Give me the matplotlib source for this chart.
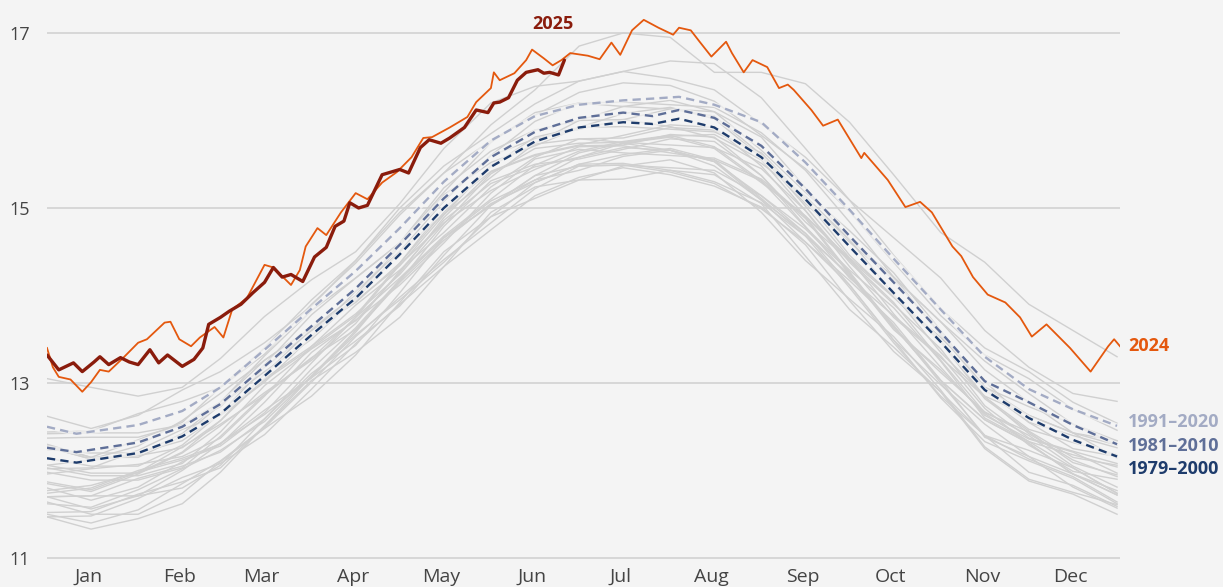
import matplotlib
matplotlib.use("Agg")
import matplotlib.pyplot as plt


# semi-monthly sample days for the historical (gray) years
gray_days = [0, 15, 31, 46, 59, 74, 90, 105, 120, 135, 151, 166, 181, 196,
             212, 227, 243, 258, 273, 288, 304, 319, 334, 349, 364]

gray_years = [
    [11.47, 11.33, 11.45, 11.62, 11.98, 12.51, 13.03, 13.35, 13.75, 14.33, 14.95, 15.24, 15.32, 15.33, 15.43, 15.38, 15.05, 14.45, 13.84, 13.41, 12.90, 12.25, 11.88, 11.73, 11.50],
    [11.47, 11.48, 11.68, 11.92, 12.08, 12.41, 12.93, 13.45, 13.90, 14.33, 14.75, 15.14, 15.35, 15.46, 15.38, 15.25, 15.01, 14.58, 13.94, 13.36, 12.90, 12.40, 11.98, 11.83, 11.59],
    [11.64, 11.50, 11.50, 11.74, 12.10, 12.48, 12.85, 13.32, 13.92, 14.50, 14.90, 15.11, 15.32, 15.48, 15.55, 15.40, 14.95, 14.40, 13.96, 13.53, 12.92, 12.27, 11.90, 11.75, 11.61],
    [11.50, 11.40, 11.55, 11.85, 12.11, 12.49, 13.01, 13.53, 13.98, 14.41, 14.83, 15.22, 15.48, 15.49, 15.41, 15.28, 14.99, 14.61, 14.12, 13.49, 12.83, 12.33, 12.11, 11.91, 11.62],
    [11.52, 11.53, 11.73, 11.87, 12.03, 12.51, 13.08, 13.55, 13.95, 14.38, 14.90, 15.29, 15.50, 15.51, 15.43, 15.30, 15.06, 14.68, 14.09, 13.46, 12.85, 12.40, 12.13, 11.93, 11.64],
    [11.70, 11.71, 11.71, 11.80, 12.06, 12.59, 13.11, 13.48, 13.88, 14.46, 15.03, 15.37, 15.48, 15.49, 15.46, 15.43, 15.14, 14.71, 14.12, 13.49, 12.98, 12.53, 12.16, 11.81, 11.57],
    [11.70, 11.56, 11.71, 12.00, 12.31, 12.69, 13.06, 13.43, 14.03, 14.66, 15.08, 15.32, 15.43, 15.59, 15.66, 15.53, 15.09, 14.61, 14.17, 13.69, 13.03, 12.38, 12.16, 11.96, 11.77],
    [11.62, 11.58, 11.78, 12.02, 12.23, 12.56, 13.08, 13.60, 14.15, 14.63, 15.05, 15.29, 15.50, 15.61, 15.68, 15.55, 15.11, 14.68, 14.24, 13.66, 13.00, 12.40, 12.23, 12.03, 11.74],
    [11.70, 11.71, 11.91, 12.05, 12.21, 12.59, 13.16, 13.63, 14.18, 14.66, 15.03, 15.32, 15.58, 15.69, 15.66, 15.48, 15.09, 14.71, 14.22, 13.64, 13.03, 12.58, 12.31, 11.96, 11.72],
    [11.80, 11.66, 11.81, 12.10, 12.31, 12.64, 13.06, 13.58, 14.18, 14.66, 15.03, 15.37, 15.63, 15.74, 15.66, 15.53, 15.14, 14.76, 14.27, 13.64, 13.03, 12.58, 12.31, 11.96, 11.72],
    [11.77, 11.83, 11.98, 12.12, 12.28, 12.66, 13.23, 13.75, 14.20, 14.68, 15.10, 15.49, 15.70, 15.71, 15.63, 15.55, 15.31, 14.88, 14.24, 13.61, 13.15, 12.65, 12.33, 12.03, 11.74],
    [11.74, 11.80, 12.00, 12.14, 12.30, 12.78, 13.35, 13.72, 14.12, 14.60, 15.17, 15.56, 15.67, 15.63, 15.60, 15.57, 15.33, 14.90, 14.26, 13.63, 13.12, 12.67, 12.40, 12.05, 11.81],
    [11.98, 11.89, 11.89, 12.03, 12.39, 12.87, 13.29, 13.61, 14.16, 14.79, 15.31, 15.50, 15.56, 15.67, 15.79, 15.76, 15.37, 14.79, 14.20, 13.77, 13.31, 12.71, 12.29, 11.99, 11.90],
    [11.85, 11.76, 11.96, 12.20, 12.51, 12.89, 13.26, 13.68, 14.28, 14.86, 15.28, 15.47, 15.58, 15.74, 15.81, 15.68, 15.29, 14.91, 14.42, 13.79, 13.18, 12.63, 12.36, 12.21, 11.97],
    [11.87, 11.78, 11.98, 12.27, 12.53, 12.86, 13.28, 13.75, 14.35, 14.83, 15.20, 15.44, 15.65, 15.76, 15.83, 15.70, 15.31, 14.78, 14.29, 13.86, 13.25, 12.60, 12.33, 12.18, 12.04],
    [11.96, 12.02, 12.07, 12.16, 12.37, 12.85, 13.42, 13.89, 14.29, 14.72, 15.24, 15.58, 15.79, 15.75, 15.72, 15.69, 15.45, 14.97, 14.33, 13.75, 13.29, 12.84, 12.42, 12.12, 11.93],
    [12.03, 11.94, 11.94, 12.08, 12.44, 12.97, 13.39, 13.71, 14.26, 14.89, 15.41, 15.60, 15.71, 15.72, 15.84, 15.81, 15.37, 14.84, 14.40, 13.92, 13.26, 12.66, 12.44, 12.09, 11.95],
    [12.06, 11.97, 11.97, 12.21, 12.57, 13.05, 13.42, 13.79, 14.24, 14.82, 15.39, 15.68, 15.74, 15.75, 15.82, 15.84, 15.55, 14.97, 14.38, 13.90, 13.39, 12.74, 12.37, 12.22, 12.08],
    [12.14, 12.05, 12.05, 12.29, 12.65, 13.03, 13.40, 13.77, 14.37, 15.00, 15.42, 15.61, 15.72, 15.83, 15.95, 15.92, 15.48, 14.90, 14.41, 13.98, 13.47, 12.82, 12.45, 12.15, 12.06],
    [12.06, 12.12, 12.17, 12.26, 12.57, 13.10, 13.62, 13.94, 14.34, 14.92, 15.49, 15.73, 15.79, 15.80, 15.92, 15.89, 15.60, 15.02, 14.43, 14.00, 13.49, 12.84, 12.47, 12.32, 12.18],
    [12.02, 12.03, 12.23, 12.47, 12.63, 13.01, 13.53, 14.05, 14.50, 14.93, 15.35, 15.74, 16.00, 16.01, 15.93, 15.80, 15.51, 15.13, 14.64, 14.01, 13.35, 12.85, 12.63, 12.43, 12.14],
    [12.24, 12.20, 12.20, 12.34, 12.65, 13.18, 13.60, 13.92, 14.37, 14.95, 15.47, 15.81, 15.92, 15.93, 15.90, 15.87, 15.63, 15.10, 14.46, 13.98, 13.52, 13.02, 12.55, 12.25, 12.16],
    [12.29, 12.15, 12.15, 12.39, 12.75, 13.13, 13.50, 13.97, 14.57, 15.15, 15.52, 15.71, 15.92, 16.08, 16.15, 16.02, 15.58, 15.05, 14.61, 14.18, 13.57, 12.92, 12.55, 12.40, 12.26],
    [12.27, 12.13, 12.18, 12.42, 12.78, 13.26, 13.63, 13.95, 14.50, 15.08, 15.60, 15.79, 15.90, 16.01, 16.13, 16.05, 15.61, 15.08, 14.64, 14.21, 13.55, 12.95, 12.63, 12.43, 12.34],
    [12.27, 12.13, 12.28, 12.57, 12.88, 13.26, 13.63, 14.00, 14.60, 15.23, 15.65, 15.89, 16.00, 16.16, 16.23, 16.10, 15.66, 15.18, 14.74, 14.26, 13.60, 12.95, 12.73, 12.53, 12.34],
    [12.37, 12.38, 12.38, 12.52, 12.73, 13.21, 13.78, 14.20, 14.60, 15.08, 15.60, 15.99, 16.20, 16.16, 16.13, 16.10, 15.81, 15.23, 14.64, 14.21, 13.70, 13.15, 12.78, 12.43, 12.29],
    [12.42, 12.43, 12.43, 12.52, 12.78, 13.31, 13.83, 14.20, 14.60, 15.18, 15.75, 16.09, 16.20, 16.21, 16.18, 16.15, 15.86, 15.43, 14.84, 14.21, 13.70, 13.25, 12.88, 12.53, 12.29],
    [12.44, 12.45, 12.65, 12.79, 12.95, 13.33, 13.90, 14.37, 14.92, 15.40, 15.77, 16.06, 16.32, 16.43, 16.40, 16.22, 15.83, 15.45, 14.96, 14.38, 13.77, 13.32, 13.05, 12.70, 12.46],
    [12.62, 12.48, 12.63, 12.92, 13.13, 13.46, 13.88, 14.40, 15.00, 15.48, 15.85, 16.19, 16.45, 16.56, 16.48, 16.35, 15.96, 15.58, 15.09, 14.46, 13.85, 13.40, 13.13, 12.78, 12.54],
    [13.05, 12.95, 12.85, 12.95, 13.28, 13.76, 14.18, 14.50, 15.05, 15.68, 16.20, 16.39, 16.45, 16.56, 16.68, 16.65, 16.26, 15.68, 15.09, 14.66, 14.20, 13.60, 13.18, 12.88, 12.79],
    # 2023
    [12.30, 12.15, 12.35, 12.55, 12.95, 13.40, 13.95, 14.40, 14.95, 15.40, 15.95, 16.35, 16.85, 17.00, 16.95, 16.55, 16.55, 16.42, 15.98, 15.38, 14.72, 14.38, 13.90, 13.60, 13.30],
]

clim_days = [0, 10, 31, 46, 59, 74, 90, 105, 120, 135, 151, 166, 181, 196,
             206, 215, 227, 243, 258, 273, 288, 304, 319, 334, 349, 364]
clim_1991_2020 = [12.50, 12.42, 12.52, 12.68, 12.95, 13.38, 13.85, 14.28, 14.77, 15.30, 15.77, 16.05, 16.18,
                  16.23, 16.25, 16.27, 16.18, 15.98, 15.52, 14.98, 14.42, 13.84, 13.30, 12.93, 12.70, 12.51]
clim_1981_2010 = [12.26, 12.21, 12.32, 12.50, 12.76, 13.19, 13.65, 14.08, 14.58, 15.11, 15.58, 15.87, 16.03,
                  16.09, 16.05, 16.12, 16.03, 15.71, 15.22, 14.68, 14.15, 13.58, 13.02, 12.78, 12.52, 12.30]
clim_1979_2000 = [12.14, 12.09, 12.20, 12.39, 12.65, 13.08, 13.55, 13.97, 14.47, 15.00, 15.47, 15.76, 15.92,
                  15.98, 15.96, 16.02, 15.92, 15.58, 15.10, 14.56, 14.03, 13.47, 12.92, 12.60, 12.35, 12.16]

days_2024 = [0, 2, 4, 8, 12, 15, 18, 21, 26, 31, 34, 40, 42, 45, 49, 52, 57, 60, 63, 68, 74, 77, 83, 86,
             88, 92, 95, 100, 105, 109, 114, 119, 124, 128, 131, 137, 143, 146, 151, 152, 154, 159, 163,
             165, 169, 172, 175, 178, 184, 188, 192, 195, 199, 203, 208, 213, 215, 219, 222, 226, 231,
             233, 237, 240, 245, 249, 252, 254, 260, 264, 269, 277, 278, 286, 292, 297, 301, 308, 311,
             315, 320, 326, 331, 335, 340, 348, 355, 361, 363, 365]
temp_2024 = [13.40, 13.18, 13.07, 13.04, 12.90, 13.01, 13.15, 13.13, 13.29, 13.46, 13.50, 13.69, 13.70,
             13.50, 13.42, 13.52, 13.64, 13.52, 13.84, 13.97, 14.35, 14.32, 14.12, 14.29, 14.56, 14.77,
             14.69, 14.95, 15.17, 15.10, 15.29, 15.41, 15.58, 15.80, 15.81, 15.92, 16.04, 16.21, 16.37,
             16.55, 16.46, 16.54, 16.69, 16.81, 16.71, 16.63, 16.69, 16.77, 16.74, 16.70, 16.89, 16.75,
             17.03, 17.15, 17.06, 16.98, 17.06, 17.03, 16.90, 16.73, 16.90, 16.77, 16.55, 16.69, 16.61,
             16.37, 16.41, 16.35, 16.12, 15.94, 16.01, 15.57, 15.63, 15.32, 15.01, 15.07, 14.95, 14.56,
             14.45, 14.21, 14.01, 13.92, 13.75, 13.53, 13.67, 13.40, 13.13, 13.42, 13.50, 13.42]

days_2025 = [0, 4, 9, 12, 16, 18, 21, 25, 28, 31, 35, 38, 41, 46, 50, 53, 55, 59, 62, 66, 70, 74, 77, 80,
             83, 87, 91, 95, 98, 101, 103, 106, 109, 114, 117, 120, 123, 127, 130, 134, 137, 142, 146,
             150, 152, 154, 157, 160, 163, 167, 169, 171, 174, 176]
temp_2025 = [13.32, 13.15, 13.23, 13.13, 13.24, 13.30, 13.21, 13.29, 13.24, 13.21, 13.38, 13.23, 13.32,
             13.19, 13.27, 13.40, 13.67, 13.75, 13.82, 13.90, 14.03, 14.15, 14.32, 14.21, 14.24, 14.16,
             14.44, 14.55, 14.79, 14.85, 15.06, 15.00, 15.03, 15.38, 15.41, 15.44, 15.40, 15.69, 15.78,
             15.74, 15.80, 15.92, 16.12, 16.09, 16.20, 16.21, 16.26, 16.46, 16.55, 16.58, 16.54, 16.55,
             16.52, 16.69]

months = ["Jan", "Feb", "Mar", "Apr", "May", "Jun", "Jul", "Aug", "Sep", "Oct", "Nov", "Dec"]
month_len = [31, 28, 31, 30, 31, 30, 31, 31, 30, 31, 30, 31]
y_ticks = [11, 13, 15, 17]

clim_labels = ["1991–2020", "1981–2010", "1979–2000"]
clim_series = [clim_1991_2020, clim_1981_2010, clim_1979_2000]
clim_colors = ["#a3abc4", "#5f6f98", "#1e3c6c"]
clim_label_y = [12.55, 12.28, 12.02]

bg = "#f4f4f4"
c2024 = "#e4580e"
c2025 = "#8a1c0c"
plt.rcParams['font.family'] = ['Open Sans', 'DejaVu Sans']

fig = plt.figure(figsize=(12.23, 5.87), dpi=100, facecolor=bg)
ax = fig.add_axes([47 / 1223, 1 - 562 / 587, 1073 / 1223, 562 / 587])
ax.set_facecolor(bg)
ax.set_xlim(0, 365)
ax.set_ylim(11 - 4 / 87.6, 17 + 33 / 87.6)

for yt in y_ticks:
    ax.axhline(yt, color="#d2d2d2", lw=1.2, zorder=0)

for row in gray_years:
    ax.plot(gray_days, row, color="#d0d0d0", lw=1.0, zorder=1)

for vals, col in zip(clim_series, clim_colors):
    ax.plot(clim_days, vals, color=bg, lw=3.5, alpha=0.7, zorder=2)
    ax.plot(clim_days, vals, color=col, lw=1.7, dashes=(3.5, 2.2), zorder=3)

ax.plot(days_2024, temp_2024, color=c2024, lw=1.3, zorder=4)
ax.plot(days_2025, temp_2025, color=c2025, lw=2.4, zorder=5,
        solid_joinstyle="round", solid_capstyle="round")

# labels
ax.text(172, 17.10, "2025", color=c2025, fontsize=13, fontweight="bold",
        ha="center", va="center")
ax.annotate("2024", xy=(365, 13.42), xytext=(6, 0), textcoords="offset points",
            color=c2024, fontsize=13, fontweight="bold", va="center",
            annotation_clip=False)
for lab, yy, col in zip(clim_labels, clim_label_y, clim_colors):
    ax.annotate(lab, xy=(365, yy), xytext=(6, 0), textcoords="offset points",
                color=col, fontsize=13, fontweight="bold", va="center",
                annotation_clip=False)

# month ticks at mid-month
starts = [sum(month_len[:i]) for i in range(12)]
mids = [s + 14 for s in starts]
ax.set_xticks(mids)
ax.set_xticklabels(months)
ax.set_yticks(y_ticks)
ax.set_yticklabels([str(v) for v in y_ticks])
ax.tick_params(axis="both", length=0, colors="#444444")
ax.tick_params(axis="x", labelsize=14, pad=4)
ax.tick_params(axis="y", labelsize=13, pad=12)
for s in ax.spines.values():
    s.set_visible(False)

fig.savefig("out.png", dpi=100, facecolor=bg)
